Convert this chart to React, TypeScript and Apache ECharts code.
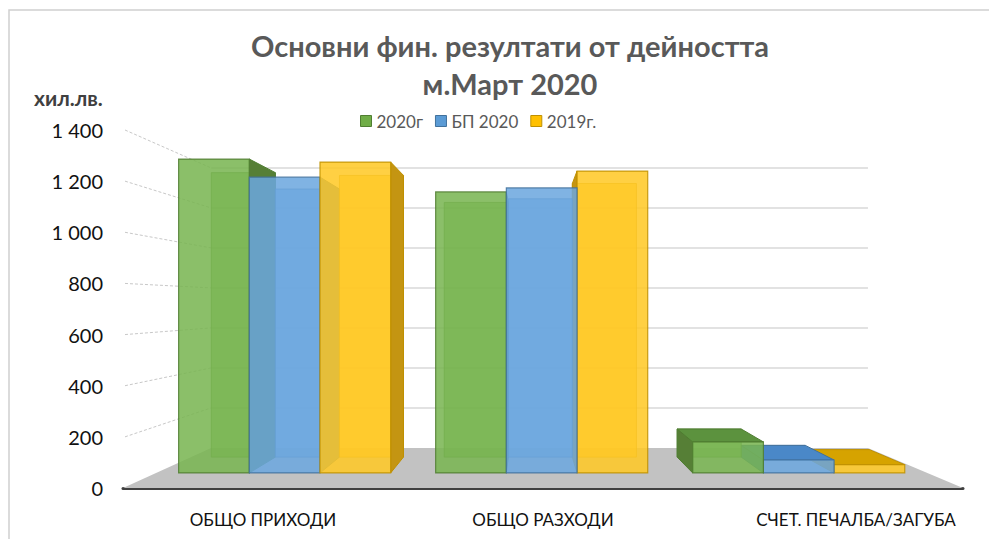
import React, { useEffect, useRef } from 'react';
import * as echarts from 'echarts';

const categories = ['ОБЩО ПРИХОДИ', 'ОБЩО РАЗХОДИ', 'СЧЕТ. ПЕЧАЛБА/ЗАГУБА'];
const seriesNames = ['2020г', 'БП 2020', '2019г.'];
const values2020 = [1337, 1197, 132];
const valuesBP2020 = [1260, 1214, 55];
const values2019 = [1324, 1286, 35];
const yTickValues = [0, 200, 400, 600, 800, 1000, 1200, 1400];
const titleLines = ['Основни фин. резултати от дейността', 'м.Март 2020'];
const unitLabel = 'хил.лв.';

const seriesValues = [values2020, valuesBP2020, values2019];

const palette = [
  { front: '#78b450', side: '#567f36', top: '#5c923e', edge: '#4f7d31', legend: '#70ad47', legendEdge: '#507e32' },
  { front: '#6ba7de', side: '#4680bb', top: '#4a88c8', edge: '#41719c', legend: '#5b9bd5', legendEdge: '#41719c' },
  { front: '#ffc824', side: '#c49512', top: '#d6a300', edge: '#bf9000', legend: '#ffc000', legendEdge: '#bf9000' },
];

const VP_X = 0.481;
const VP_Y = 0.486;
const S_BAR_FRONT = 0.918;
const S_BAR_BACK = 0.832;
const S_WALL = 0.782;
const BAR_FRAC = 0.275;
const FONT = 'Lato, "Noto Sans", sans-serif';

function formatTick(v: number): string {
  if (v >= 1000) {
    const th = Math.floor(v / 1000);
    const rest = String(v % 1000).padStart(3, '0');
    return th + ' ' + rest;
  }
  return String(v);
}

function makeProjector(params: any) {
  const cs = params.coordSys;
  const vpx = cs.x + VP_X * cs.width;
  const vpy = cs.y + VP_Y * cs.height;
  const P = (x: number, y: number, s: number) => [vpx + s * (x - vpx), vpy + s * (y - vpy)];
  return { cs, vpx, vpy, P };
}

function makeBarRender(k: number) {
  return (params: any, api: any) => {
    const cat = api.value(0);
    const v = api.value(1);
    const { vpx, vpy, P } = makeProjector(params);
    const top = api.coord([cat, v]);
    const base = api.coord([cat, 0]);
    const catW = api.size([1, 0])[0];
    const w = catW * BAR_FRAC;
    const x0 = top[0] - 1.5 * w + k * w;
    const x1 = x0 + w;
    const F = S_BAR_FRONT;
    const B = S_BAR_BACK;
    const c = palette[k];
    const dist = Math.abs((x0 + x1) / 2 - vpx);
    const zb = 1000 - dist;
    const yt = top[1];
    const yb = base[1];
    const children: any[] = [];
    children.push({
      type: 'polygon',
      shape: { points: [P(x0, yt, B), P(x1, yt, B), P(x1, yb, B), P(x0, yb, B)] },
      style: { fill: c.front, stroke: c.edge, lineWidth: 1, opacity: 0.7 },
      z2: zb,
    });
    if (x1 < vpx) {
      children.push({
        type: 'polygon',
        shape: { points: [P(x1, yt, F), P(x1, yt, B), P(x1, yb, B), P(x1, yb, F)] },
        style: { fill: c.side, stroke: c.edge, lineWidth: 1 },
        z2: zb + 0.1,
      });
    }
    if (x0 > vpx) {
      children.push({
        type: 'polygon',
        shape: { points: [P(x0, yt, F), P(x0, yt, B), P(x0, yb, B), P(x0, yb, F)] },
        style: { fill: c.side, stroke: c.edge, lineWidth: 1 },
        z2: zb + 0.1,
      });
    }
    if (yt > vpy) {
      children.push({
        type: 'polygon',
        shape: { points: [P(x0, yt, F), P(x1, yt, F), P(x1, yt, B), P(x0, yt, B)] },
        style: { fill: c.top, stroke: c.edge, lineWidth: 1 },
        z2: zb + 0.2,
      });
    }
    children.push({
      type: 'polygon',
      shape: { points: [P(x0, yt, F), P(x1, yt, F), P(x1, yb, F), P(x0, yb, F)] },
      style: { fill: c.front, stroke: c.edge, lineWidth: 1.2, opacity: 0.86 },
      z2: zb + 0.3,
    });
    return { type: 'group', children };
  };
}

function wallsRender(params: any, api: any) {
  const t = api.value(1);
  const { cs, P } = makeProjector(params);
  const y = api.coord([0, t])[1];
  const xl = cs.x;
  const xr = cs.x + cs.width;
  if (t === 0) {
    return {
      type: 'polygon',
      shape: { points: [[xl, y], [xr, y], P(xr, y, S_WALL), P(xl, y, S_WALL)] },
      style: { fill: '#c2c2c2' },
      z2: 1,
    };
  }
  const a = P(xl, y, S_WALL);
  const b = P(xr, y, S_WALL);
  return {
    type: 'group',
    children: [
      {
        type: 'line',
        shape: { x1: a[0], y1: a[1], x2: b[0], y2: b[1] },
        style: { stroke: '#d9d9d9', lineWidth: 1.5 },
        z2: 2,
      },
      {
        type: 'line',
        shape: { x1: xl + 2, y1: y, x2: a[0], y2: a[1] },
        style: { stroke: '#c8c8c8', lineWidth: 1, lineDash: [3, 2] },
        z2: 2,
      },
    ],
  };
}

export default function App() {
  const ref = useRef<HTMLDivElement>(null);
  useEffect(() => {
    document.body.style.margin = '0';
    if (!ref.current) return;
    const chart = echarts.init(ref.current, undefined, { renderer: 'svg' });
    const option: any = {
      animation: false,
      backgroundColor: '#ffffff',
      title: {
        text: titleLines.join('\n'),
        left: 510,
        textAlign: 'center',
        top: 26,
        padding: 0,
        textStyle: {
          fontFamily: FONT,
          fontWeight: 'bold',
          fontSize: 29,
          lineHeight: 38,
          color: '#595959',
        },
      },
      legend: {
        data: seriesNames.map((n, i) => ({
          name: n,
          itemStyle: { color: palette[i].legend, borderColor: palette[i].legendEdge, borderWidth: 1 },
        })),
        icon: 'rect',
        left: 360,
        top: 111,
        padding: 0,
        itemWidth: 11,
        itemHeight: 11,
        itemGap: 12,
        textStyle: { fontFamily: FONT, fontSize: 17, color: '#595959', lineHeight: 20 },
      },
      grid: { left: 123, right: 26, top: 130, bottom: 51, containLabel: false },
      xAxis: {
        type: 'category',
        data: categories,
        axisLine: { show: true, lineStyle: { color: '#404040', width: 3 } },
        axisTick: { show: false },
        splitLine: { show: false },
        axisLabel: {
          interval: 0,
          margin: 23,
          fontFamily: FONT,
          fontSize: 17,
          color: '#111111',
          formatter: (value: string, index: number) => (index === 2 ? '{pad|}' + value : value),
          rich: { pad: { width: 66 } },
        },
      },
      yAxis: {
        type: 'value',
        min: 0,
        max: 1400,
        interval: 200,
        axisLine: { show: false },
        axisTick: { show: false },
        splitLine: { show: false },
        axisLabel: {
          margin: 20,
          fontFamily: FONT,
          fontSize: 20,
          color: '#111111',
          formatter: (v: number) => formatTick(v),
        },
      },
      graphic: [
        {
          type: 'polyline',
          shape: { points: [[995, 10], [9, 10], [9, 545]] },
          style: { stroke: '#d0d0d0', lineWidth: 1.5, fill: 'none' },
          silent: true,
        },
        {
          type: 'text',
          x: 34,
          y: 97,
          style: {
            text: unitLabel,
            fontFamily: FONT,
            fontWeight: 'bold',
            fontSize: 21,
            fill: '#404040',
            verticalAlign: 'middle',
          },
        },
      ],
      series: [
        {
          type: 'custom',
          name: 'walls',
          z: 1,
          silent: true,
          renderItem: wallsRender,
          data: yTickValues.map((t) => [0, t]),
          encode: { x: 0, y: 1 },
        },
        ...seriesNames.map((name, k) => ({
          type: 'custom',
          name,
          z: 2,
          itemStyle: { color: palette[k].legend },
          renderItem: makeBarRender(k),
          data: seriesValues[k].map((v, i) => [i, v]),
          encode: { x: 0, y: 1 },
        })),
      ],
    };
    chart.setOption(option);
    return () => chart.dispose();
  }, []);
  return <div ref={ref} style={{ width: 989, height: 539, position: 'absolute', left: 0, top: 0 }} />;
}
